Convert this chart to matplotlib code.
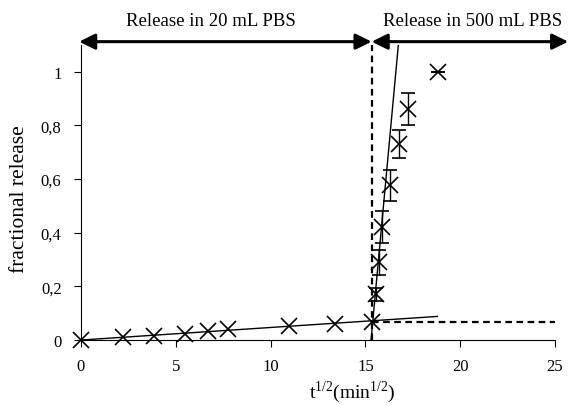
import matplotlib
matplotlib.use("Agg")
import matplotlib.pyplot as plt
from matplotlib.ticker import FuncFormatter

# data (x = sqrt of time in min)
sqrt_t_20 = [0.0, 2.24, 3.87, 5.48, 6.71, 7.75, 10.95, 13.42, 15.33]
frac_20 = [0.0, 0.010, 0.015, 0.022, 0.033, 0.040, 0.051, 0.060, 0.066]

sqrt_t_500 = [15.54, 15.73, 15.86, 16.30, 16.79, 17.23, 18.81]
frac_500 = [0.17, 0.29, 0.42, 0.576, 0.73, 0.86, 1.0]
err_500 = [0.025, 0.047, 0.06, 0.056, 0.052, 0.06, 0.0]

# fitted lines (endpoints)
fit_slow_x = [0.0, 18.8]
fit_slow_y = [0.0, 0.088]
fit_fast_x = [15.3, 16.74]
fit_fast_y = [0.0, 1.1]

switch_x = 15.33
plateau_y = 0.068

plt.rcParams["font.family"] = ["Liberation Serif", "DejaVu Serif"]
plt.rcParams["mathtext.fontset"] = "custom"
plt.rcParams["mathtext.rm"] = "Liberation Serif"

fig = plt.figure(figsize=(5.68, 4.06), dpi=100)
ax = fig.add_axes([0.1426, 0.160, 0.977 - 0.1426, 0.887 - 0.160])

ax.plot(sqrt_t_20, frac_20, ls="none", marker="x", ms=11, mew=1.2, color="black",
        clip_on=False, zorder=5)
ax.errorbar(sqrt_t_500, frac_500, yerr=err_500, ls="none", marker="x", ms=11,
            mew=1.2, color="black", ecolor="black", elinewidth=1, capsize=5)

ax.plot(fit_slow_x, fit_slow_y, color="black", lw=1)
ax.plot(fit_fast_x, fit_fast_y, color="black", lw=1)
ax.plot([switch_x, switch_x], [0, 1.1], color="black", lw=1.6, ls=(0, (3, 2)))
ax.plot([switch_x, 25], [plateau_y, plateau_y], color="black", lw=1.6, ls=(0, (3, 2)))

# phase arrows
arrow_y = 1.112
for x0, x1 in [(-0.1, switch_x), (switch_x, 25.7)]:
    ax.annotate("", xy=(x0, arrow_y), xytext=(x1, arrow_y), annotation_clip=False,
                arrowprops=dict(arrowstyle="<|-|>,head_length=0.95,head_width=0.47",
                                color="black", lw=2.2, shrinkA=0, shrinkB=0))
fig.text(211 / 568, 1 - 21 / 406, "Release in 20 mL PBS", ha="center", va="center", fontsize=13.5)
fig.text(473 / 568, 1 - 21 / 406, "Release in 500 mL PBS", ha="center", va="center", fontsize=13.5)

ax.set_xlim(0, 25)
ax.set_ylim(0, 1.1)
ax.set_xticks([0, 5, 10, 15, 20, 25])
ax.set_yticks([0, 0.2, 0.4, 0.6, 0.8, 1.0])
ax.yaxis.set_major_formatter(FuncFormatter(
    lambda v, p: str(int(round(v))) if abs(v - round(v)) < 1e-9 else f"{v:.1f}".replace(".", ",")))
ax.spines["top"].set_visible(False)
ax.spines["right"].set_visible(False)
ax.tick_params(labelsize=12, direction="out", length=5)
ax.tick_params(axis="x", pad=8)
ax.tick_params(axis="y", pad=9)
ax.set_xlabel("t$^{1/2}$(min$^{1/2}$)", fontsize=14, va="center")
ax.xaxis.set_label_coords(0.572, -0.172)
ax.set_ylabel("fractional release", fontsize=15.5, va="center")
ax.yaxis.set_label_coords(-0.129, 0.48)

fig.savefig("out.png", dpi=100)
